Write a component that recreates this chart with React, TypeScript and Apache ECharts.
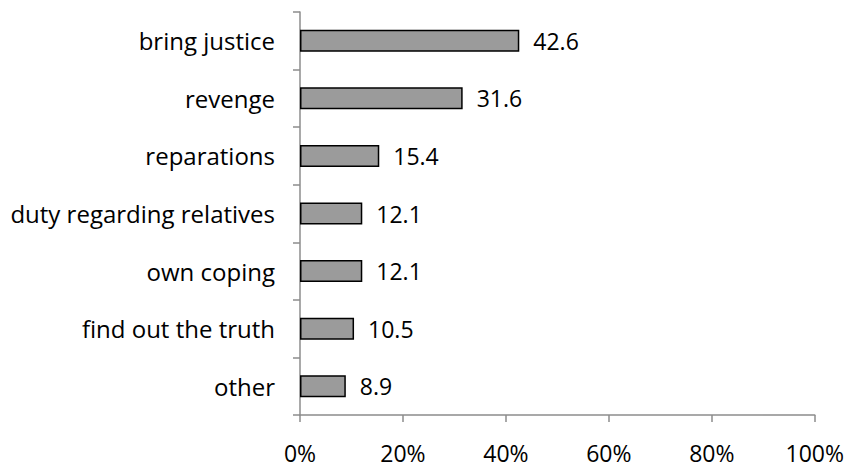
import React, { useEffect, useRef } from "react";
import * as echarts from "echarts";

const categories = [
  "bring justice",
  "revenge",
  "reparations",
  "duty regarding relatives",
  "own coping",
  "find out the truth",
  "other",
];
const values = [42.6, 31.6, 15.4, 12.1, 12.1, 10.5, 8.9];
const xTicks = [0, 20, 40, 60, 80, 100];

export default function App() {
  const ref = useRef<HTMLDivElement>(null);
  useEffect(() => {
    if (!ref.current) return;
    const chart = echarts.init(ref.current, null, { renderer: "svg" });
    const font = "'Open Sans', 'Noto Sans', sans-serif";
    chart.setOption({
      animation: false,
      grid: { left: 300, right: 32, top: 12, bottom: 53, containLabel: false },
      xAxis: {
        type: "value",
        min: xTicks[0],
        max: xTicks[xTicks.length - 1],
        interval: 20,
        axisLine: { show: true, lineStyle: { color: "#8c8c8c", width: 1.5 } },
        axisTick: { show: true, length: 7, lineStyle: { color: "#8c8c8c", width: 1.5 } },
        splitLine: { show: false },
        axisLabel: {
          formatter: (v: number) => v + "%",
          color: "#000",
          fontSize: 23,
          lineHeight: 23,
          fontFamily: font,
          margin: 26,
        },
      },
      yAxis: {
        type: "category",
        data: categories,
        inverse: true,
        axisLine: { show: true, lineStyle: { color: "#8c8c8c", width: 1.5 } },
        axisTick: { show: true, length: 7, alignWithLabel: false, lineStyle: { color: "#8c8c8c", width: 1.5 } },
        axisLabel: {
          color: "#000",
          fontSize: 24,
          fontFamily: font,
          margin: 25,
        },
      },
      series: [
        {
          type: "bar",
          data: values,
          barWidth: 22,
          itemStyle: { color: "#9b9b9b", borderColor: "#000", borderWidth: 1.5 },
          label: {
            show: true,
            position: "right",
            distance: 14,
            color: "#000",
            fontSize: 23,
            fontFamily: font,
            formatter: (p: any) => p.value.toFixed(1),
          },
        },
      ],
    });
    return () => chart.dispose();
  }, []);
  return <div ref={ref} style={{ width: 847, height: 468, position: "absolute", left: 0, top: 0, background: "#fff" }} />;
}
